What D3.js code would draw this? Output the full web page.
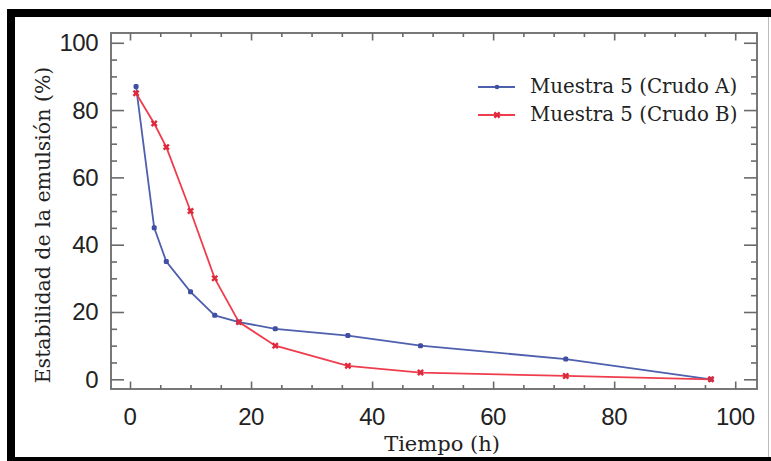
<!DOCTYPE html>
<html>
<head>
<meta charset="utf-8">
<script src="https://cdn.jsdelivr.net/npm/d3@7"></script>
<style>
html,body{margin:0;padding:0;background:#fff;}
svg{display:block;}
</style>
</head>
<body>
<svg id="chart" width="771" height="461"></svg>
<script>
const tiempo = [1, 4, 6, 10, 14, 18, 24, 36, 48, 72, 96];
const crudoA = [87, 45, 35, 26, 19, 17, 15, 13, 10, 6, 0];
const crudoB = [85, 76, 69, 50, 30, 17, 10, 4, 2, 1, 0];
const seriesNames = ["Muestra 5 (Crudo A)", "Muestra 5 (Crudo B)"];
const xTicks = [0, 20, 40, 60, 80, 100];
const yTicks = [0, 20, 40, 60, 80, 100];
const xTitle = "Tiempo (h)";
const yTitle = "Estabilidad de la emulsión (%)";

const svg = d3.select("#chart");
const L = 111, R = 757, T = 33, B = 389;
const x = d3.scaleLinear().domain([-3.14, 103.6]).range([L, R]);
const y = d3.scaleLinear().domain([-2.88, 102.9]).range([B, T]);

// frame
svg.append("rect").attr("x", 7).attr("y", 9).attr("width", 764).attr("height", 8).attr("fill", "#000");
svg.append("rect").attr("x", 7).attr("y", 9).attr("width", 8).attr("height", 452).attr("fill", "#000");
svg.append("rect").attr("x", 7).attr("y", 457).attr("width", 764).attr("height", 4).attr("fill", "#000");
svg.append("line").attr("x1", 768.5).attr("x2", 768.5).attr("y1", 17).attr("y2", 457).attr("stroke", "#bbb").attr("stroke-width", 1);

const axCol = "#6a6a6a";
const minorX = d3.range(0, 101, 5);
const minorY = d3.range(0, 101, 5);

function tickGroup(axisGen, tx, ty) {
  const g = svg.append("g").attr("transform", `translate(${tx},${ty})`).call(axisGen);
  g.select(".domain").remove();
  g.selectAll("line").attr("stroke", axCol).attr("stroke-width", 1.6);
  g.selectAll("text").remove();
  return g;
}
tickGroup(d3.axisTop(x).tickValues(minorX.filter(v => v % 20)).tickSize(4), 0, B);
tickGroup(d3.axisTop(x).tickValues(xTicks).tickSize(7.5), 0, B);
tickGroup(d3.axisBottom(x).tickValues(minorX.filter(v => v % 20)).tickSize(4), 0, T);
tickGroup(d3.axisBottom(x).tickValues(xTicks).tickSize(7.5), 0, T);
tickGroup(d3.axisRight(y).tickValues(minorY.filter(v => v % 20)).tickSize(6), L, 0);
tickGroup(d3.axisRight(y).tickValues(yTicks).tickSize(13), L, 0);
tickGroup(d3.axisLeft(y).tickValues(minorY.filter(v => v % 20)).tickSize(6), R, 0);
tickGroup(d3.axisLeft(y).tickValues(yTicks).tickSize(13), R, 0);

svg.append("rect").attr("x", L).attr("y", T).attr("width", R - L).attr("height", B - T)
  .attr("fill", "none").attr("stroke", axCol).attr("stroke-width", 1.8);

const numFont = "'Liberation Sans Narrow','Arial Narrow','Liberation Sans',sans-serif";
svg.append("g").selectAll("text").data(xTicks).join("text")
  .attr("x", d => x(d)).attr("y", 425)
  .attr("text-anchor", "middle")
  .attr("font-family", numFont).attr("font-size", 24).attr("fill", "#222")
  .attr("letter-spacing", -0.5)
  .text(d => d);
svg.append("g").selectAll("text").data(yTicks).join("text")
  .attr("x", 98).attr("y", d => y(d) + 8.5)
  .attr("text-anchor", "end")
  .attr("font-family", numFont).attr("font-size", 24).attr("fill", "#222")
  .attr("letter-spacing", -0.5)
  .text(d => d);

const serif = "'DejaVu Serif','Liberation Serif',serif";
svg.append("text").attr("x", 442).attr("y", 451).attr("text-anchor", "middle")
  .attr("font-family", serif).attr("font-size", 21).attr("fill", "#222").text(xTitle);
svg.append("text").attr("transform", "translate(50,225) rotate(-90)").attr("text-anchor", "middle")
  .attr("font-family", serif).attr("font-size", 20.5).attr("fill", "#222").text(yTitle);

const colA = "#4e5fae", colB = "#ee3d4d";
const dataA = tiempo.map((t, i) => ({t, v: crudoA[i]}));
const dataB = tiempo.map((t, i) => ({t, v: crudoB[i]}));
const line = d3.line().x(d => x(d.t)).y(d => y(d.v));
svg.append("path").datum(dataA).attr("d", line).attr("fill", "none").attr("stroke", colA).attr("stroke-width", 1.8);
svg.append("path").datum(dataB).attr("d", line).attr("fill", "none").attr("stroke", colB).attr("stroke-width", 1.8);

svg.append("g").selectAll("rect").data(dataA).join("rect")
  .attr("x", d => x(d.t) - 2.5).attr("y", d => y(d.v) - 2.5).attr("width", 5).attr("height", 5)
  .attr("rx", 1.5).attr("fill", "#3f4fa3");
const cross = d3.symbol().type(d3.symbolCross).size(30);
svg.append("g").selectAll("path").data(dataB).join("path")
  .attr("d", cross).attr("transform", d => `translate(${x(d.t)},${y(d.v)}) rotate(45)`)
  .attr("fill", "#e0283c");

const leg = svg.append("g");
const legY = [87, 115];
[colA, colB].forEach((c, i) => {
  leg.append("line").attr("x1", 478).attr("x2", 515).attr("y1", legY[i]).attr("y2", legY[i])
    .attr("stroke", c).attr("stroke-width", 1.8);
  if (i === 0) {
    leg.append("circle").attr("cx", 497).attr("cy", legY[i]).attr("r", 2.3).attr("fill", "#3f4fa3");
  } else {
    leg.append("path").attr("d", cross).attr("transform", `translate(497,${legY[i]}) rotate(45)`).attr("fill", "#e0283c");
  }
  leg.append("text").attr("x", 530).attr("y", legY[i] + 6)
    .attr("font-family", serif).attr("font-size", 19.8).attr("fill", "#222")
    .text(seriesNames[i]);
});
</script>
</body>
</html>
